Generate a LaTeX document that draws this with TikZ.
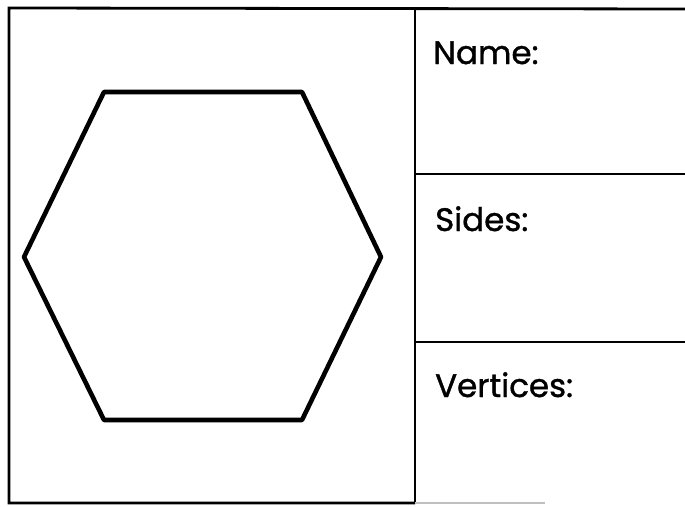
\documentclass[tikz,border=0pt]{standalone}
\usepackage{fontspec}
\setmainfont{Poppins}
\newfontfamily\lblfont[FakeBold=1.2]{Poppins}
\begin{document}
\begin{tikzpicture}[x=1pt,y=-1pt,
  frame/.style={line width=2.8pt,black},
  rule/.style={line width=1.8pt,black},
  hexline/.style={line width=4.6pt,black,line join=round},
  lbl/.style={anchor=base west,inner sep=0pt,font=\lblfont\fontsize{32.5}{32.5}\selectfont}]
\useasboundingbox (0,0) rectangle (685,506);
\fill[white] (0,0) rectangle (685,506);
% outer box of figure panel
\coordinate (tl) at (9,8);
\coordinate (tr) at (685,9);
\coordinate (bl) at (9,503);
\coordinate (dt) at (415,8);
\coordinate (db) at (415,503);
\coordinate (r1l) at (415,174);
\coordinate (r1r) at (685,174);
\coordinate (r2l) at (415,342);
\coordinate (r2r) at (685,342);
\coordinate (bg) at (545,503);
\draw[frame] (tr) -- (tl) -- (bl) -- (db);
\draw[frame] (dt) -- (db);
\draw[rule] (r1l) -- (r1r);
\draw[rule] (r2l) -- (r2r);
\draw[line width=1.2pt,black!25] (db) -- (bg);
% hexagon
\coordinate (h1) at (104,92);
\coordinate (h2) at (302,92);
\coordinate (h3) at (381,257);
\coordinate (h4) at (302,420);
\coordinate (h5) at (104,420);
\coordinate (h6) at (24,257);
\draw[hexline] (h1) -- (h2) -- (h3) -- (h4) -- (h5) -- (h6) -- cycle;
% labels
\node[lbl] (name) at (433,64) {Name:};
\node[lbl] (sides) at (435,231) {Sides:};
\node[lbl] (vert) at (435,397) {Vertices:};
\end{tikzpicture}
\end{document}
